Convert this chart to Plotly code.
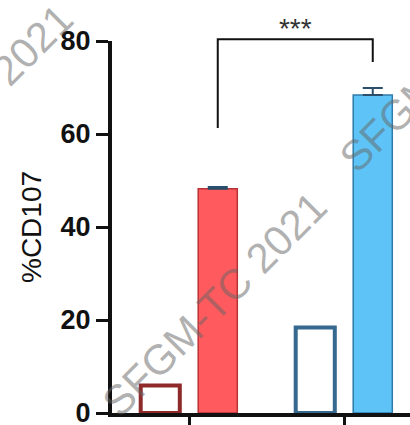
import plotly.graph_objects as go

# Group positions on the x axis and the two measurements per group
groups = [0, 1]
open_values = [5.9, 18.4]          # unstimulated (open bars)
filled_values = [48.2, 68.4]       # stimulated (filled bars)
filled_errors = [0.4, 1.5]

# Significance bracket between the two filled bars
bracket_top = 80.4
bracket_left_bottom = 61.3
bracket_right_bottom = 75.5
star_level = 82.2
y_ticks = [0, 20, 40, 60, 80]

open_line_colors = ["#8E2A2A", "#36698F"]
filled_colors = ["#FF5B5E", "#5EC4F7"]
filled_line_colors = ["#B83236", "#2F7BAA"]

W, H = 410, 425
L, R, T, B = 112, 0, 0, 12
plot_w = W - L - R
plot_h = H - T - B
y_domain_top = (plot_h - 41) / plot_h
slot_px = 155
x_left = -(189 - L) / slot_px
x_right = x_left + plot_w / slot_px

fig = go.Figure()

fig.add_trace(go.Bar(
    x=groups, y=open_values, name="open",
    marker=dict(color="white", line=dict(color=open_line_colors, width=4)),
    xaxis="x", yaxis="y",
))
fig.add_trace(go.Bar(
    x=groups, y=filled_values, name="filled",
    marker=dict(color=filled_colors, line=dict(color=filled_line_colors, width=1.5)),
    error_y=dict(type="data", array=filled_errors, arrayminus=[0, 0], symmetric=False,
                 color="#2B4F6A", thickness=2, width=10),
    xaxis="x", yaxis="y",
))

# bar centre offset inside a group (grouped mode, two traces)
bargap = 0.258
offset = (1 - bargap) / 4
bx_left = groups[0] + offset
bx_right = groups[1] + offset

fig.add_trace(go.Scatter(
    x=[bx_left, bx_left, bx_right, bx_right],
    y=[bracket_left_bottom, bracket_top, bracket_top, bracket_right_bottom],
    mode="lines", line=dict(color="#111111", width=2),
    xaxis="x", yaxis="y2", showlegend=False, hoverinfo="skip",
))
fig.add_trace(go.Scatter(
    x=[(bx_left + bx_right) / 2], y=[star_level], mode="text", text=["***"],
    textfont=dict(family="Liberation Sans, Arial", size=28, color="#333333"),
    textposition="middle center", cliponaxis=False,
    xaxis="x", yaxis="y2", showlegend=False, hoverinfo="skip",
))

# watermark text
wm_font = dict(family="Liberation Sans, Arial", size=42, color="rgba(100,100,100,0.5)")
wm_centers = [(-39, 117), (214, 304), (452, 60)]
for (px, py) in wm_centers:
    fig.add_annotation(
        text="SFGM-TC 2021", xref="paper", yref="paper",
        x=(px - L) / plot_w, y=(plot_h - (py - T)) / plot_h,
        xanchor="center", yanchor="middle", showarrow=False,
        textangle=-45, font=wm_font,
    )

# y axis title
fig.add_annotation(
    text="%CD107", xref="paper", yref="paper",
    x=(32 - L) / plot_w, y=(plot_h - (227 - T)) / plot_h,
    xanchor="center", yanchor="middle", showarrow=False, textangle=-90,
    font=dict(family="Liberation Sans, Arial", size=28, color="#111111"),
)

fig.update_layout(
    width=W, height=H,
    margin=dict(l=L, r=R, t=T, b=B, autoexpand=False),
    paper_bgcolor="white", plot_bgcolor="rgba(0,0,0,0)",
    barmode="group", bargap=bargap, bargroupgap=0.32,
    showlegend=False,
    xaxis=dict(
        range=[x_left, x_right], tickvals=groups, showticklabels=False,
        ticks="outside", ticklen=10, tickwidth=3, tickcolor="#111111",
        showline=True, linewidth=4, linecolor="#111111",
        showgrid=False, zeroline=False, anchor="y",
    ),
    yaxis=dict(
        domain=[0, y_domain_top], range=[0, 80], tickvals=y_ticks,
        ticks="outside", ticklen=12, tickwidth=3, tickcolor="#111111",
        showline=True, linewidth=4, linecolor="#111111",
        tickfont=dict(family="Liberation Sans, Arial", size=27, color="#111111", weight="bold"),
        ticklabeloverflow="allow",
        showgrid=False, zeroline=False, anchor="x",
    ),
    yaxis2=dict(
        domain=[0, 1], range=[0, 80 / y_domain_top], visible=False,
        showgrid=False, zeroline=False, anchor="x",
    ),
)

fig.write_html("out.html")
